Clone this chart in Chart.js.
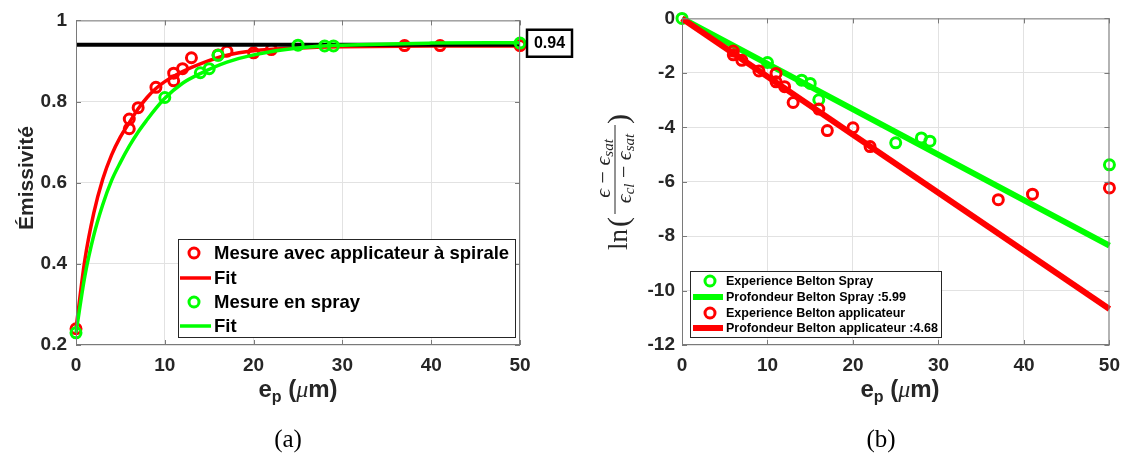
<!DOCTYPE html>
<html lang="fr">
<head>
  <meta charset="UTF-8" />
  <title>Émissivité et profondeur de Belton</title>
  <script src="https://cdn.jsdelivr.net/npm/chart.js"></script>
  <style>
    body { margin: 0; background: #fff; }
    .wrap { position: relative; width: 1129px; height: 455px; overflow: hidden; }
    #leftChart { position: absolute; left: 0; top: 0; }
    #rightChart { position: absolute; left: 590px; top: 0; }
  </style>
</head>
<body>
<div class="wrap">
  <canvas id="leftChart" width="590" height="455"></canvas>
  <canvas id="rightChart" width="539" height="455"></canvas>
</div>

<script>
  // (a) emissivite mesuree
  const spiraleX = [0, 6, 6, 7, 9, 11, 11, 12, 13, 16, 17, 20, 22, 37, 41, 50];
  const spiraleY = [0.24, 0.733, 0.757, 0.785, 0.835, 0.851, 0.870, 0.881, 0.908, 0.915, 0.924, 0.920, 0.928, 0.938, 0.938, 0.938];
  const sprayX = [0, 10, 14, 15, 16, 25, 28, 29, 50];
  const sprayY = [0.23, 0.81, 0.871, 0.881, 0.914, 0.939, 0.937, 0.937, 0.944];
  const fitX = [0, 1, 2, 3, 4, 5, 6, 7, 8, 9, 10, 12, 14, 17, 20, 25, 30, 40, 50];
  const fitSpirale = [0.24, 0.41, 0.525, 0.608, 0.668, 0.713, 0.748, 0.782, 0.810, 0.832, 0.849, 0.874, 0.893, 0.914, 0.925, 0.932, 0.935, 0.937, 0.937];
  const fitSpray = [0.23, 0.37, 0.47, 0.545, 0.605, 0.650, 0.690, 0.725, 0.755, 0.783, 0.808, 0.845, 0.869, 0.897, 0.915, 0.932, 0.939, 0.944, 0.945];
  const satX = [0, 50];
  const satY = [0.94, 0.94];
  const satLabel = '0.94';

  // (b) ln((e - esat)/(ecl - esat))
  const beltonSprayX = [0, 10, 14, 15, 16, 25, 28, 29, 50];
  const beltonSprayY = [0, -1.62, -2.27, -2.39, -2.99, -4.57, -4.39, -4.51, -5.38];
  const beltonApplX = [6, 6, 7, 9, 11, 11, 12, 13, 16, 17, 20, 22, 37, 41, 50];
  const beltonApplY = [-1.20, -1.34, -1.54, -1.93, -2.02, -2.33, -2.51, -3.09, -3.33, -4.12, -4.02, -4.71, -6.66, -6.46, -6.23];
  const droiteX = [0, 50];
  const droiteSpray = [0, -8.35];
  const droiteAppl = [0, -10.68];

  const xTicks = [0, 10, 20, 30, 40, 50];

  const RED = '#ff0000', GREEN = '#00ff00', INK = '#262626', FRAME = '#7a7a7a', GRID = '#e2e2e2';
  const SANS = "'Liberation Sans', Arial, sans-serif";
  const SERIF = "'Liberation Serif', 'DejaVu Serif', serif";

  const pts = (xs, ys) => xs.map((x, i) => ({ x: x, y: ys[i] }));

  function markers(label, xs, ys, color, order) {
    return { label: label, data: pts(xs, ys), showLine: false, pointStyle: 'circle',
      pointRadius: 5, pointBorderWidth: 3, borderColor: color, backgroundColor: 'rgba(0,0,0,0)',
      pointHoverRadius: 5, order: order, clip: false };
  }
  function curve(label, xs, ys, color, width, order) {
    return { label: label, data: pts(xs, ys), showLine: true, pointRadius: 0, borderWidth: width,
      borderColor: color, backgroundColor: color, cubicInterpolationMode: 'monotone', order: order, clip: false };
  }

  // draws a row of text pieces (font changes / sub-scripts) centred on x
  function drawRuns(ctx, runs, x, y, align) {
    let w = 0;
    runs.forEach(r => { ctx.font = r.font; r.w = ctx.measureText(r.t).width; w += r.w; });
    let cx = align === 'left' ? x : x - w / 2;
    ctx.textAlign = 'left';
    runs.forEach(r => { ctx.font = r.font; ctx.fillText(r.t, cx, y + (r.dy || 0)); cx += r.w; });
    return w;
  }

  function axisTitleX(ctx, cx) {
    ctx.fillStyle = INK;
    ctx.textBaseline = 'alphabetic';
    drawRuns(ctx, [
      { t: 'e', font: 'bold 24px ' + SANS },
      { t: 'p', font: 'bold 16px ' + SANS, dy: 5 },
      { t: ' (', font: 'bold 24px ' + SANS },
      { t: 'μ', font: 'italic 24px ' + SERIF },
      { t: 'm)', font: 'bold 24px ' + SANS }
    ], cx, 397);
  }

  function frame(chart) {
    const { ctx, chartArea: a, scales } = chart;
    ctx.save();
    ctx.strokeStyle = FRAME;
    ctx.lineWidth = 1;
    ctx.strokeRect(a.left + 0.5, a.top + 0.5, a.right - a.left - 1, a.bottom - a.top - 1);
    ctx.beginPath();
    scales.x.ticks.forEach(t => {
      const p = Math.round(scales.x.getPixelForValue(t.value)) + 0.5;
      ctx.moveTo(p, a.bottom); ctx.lineTo(p, a.bottom - 5);
      ctx.moveTo(p, a.top); ctx.lineTo(p, a.top + 5);
    });
    scales.y.ticks.forEach(t => {
      const p = Math.round(scales.y.getPixelForValue(t.value)) + 0.5;
      ctx.moveTo(a.left, p); ctx.lineTo(a.left + 5, p);
      ctx.moveTo(a.right, p); ctx.lineTo(a.right - 5, p);
    });
    ctx.stroke();
    ctx.restore();
  }

  function legend(chart, box, rows, font, lineW) {
    const ctx = chart.ctx;
    ctx.save();
    ctx.fillStyle = '#fff';
    ctx.fillRect(box.x, box.y, box.w, box.h);
    ctx.strokeStyle = INK;
    ctx.lineWidth = 1;
    ctx.strokeRect(box.x + 0.5, box.y + 0.5, box.w, box.h);
    ctx.font = font;
    ctx.textBaseline = 'middle';
    ctx.textAlign = 'left';
    rows.forEach((idx, i) => {
      const ds = chart.data.datasets[idx];
      const cy = box.rowY[i];
      ctx.strokeStyle = ds.borderColor;
      if (ds.showLine) {
        ctx.lineWidth = lineW;
        ctx.beginPath();
        ctx.moveTo(box.l0, cy); ctx.lineTo(box.l1, cy);
        ctx.stroke();
      } else {
        ctx.lineWidth = 3;
        ctx.beginPath();
        ctx.arc(box.mx, cy, 5, 0, Math.PI * 2);
        ctx.stroke();
      }
      ctx.fillStyle = '#000';
      ctx.fillText(ds.label, box.tx, cy + 1);
    });
    ctx.restore();
  }

  const leftDecor = {
    id: 'leftDecor',
    afterDatasetsDraw(chart) {
      const ctx = chart.ctx;
      frame(chart);
      ctx.save();
      // 0.94 label box
      const yS = chart.scales.y.getPixelForValue(satY[1]);
      ctx.strokeStyle = '#000';
      ctx.lineWidth = 2.5;
      ctx.fillStyle = '#fff';
      ctx.fillRect(527, yS - 15, 45, 27);
      ctx.strokeRect(527, yS - 15, 45, 27);
      ctx.fillStyle = '#000';
      ctx.font = 'bold 16px ' + SANS;
      ctx.textAlign = 'center';
      ctx.textBaseline = 'middle';
      ctx.fillText(satLabel, 549.5, yS - 1);
      // y title
      ctx.save();
      ctx.translate(33, 178);
      ctx.rotate(-Math.PI / 2);
      ctx.fillStyle = INK;
      ctx.font = 'bold 21px ' + SANS;
      ctx.textAlign = 'center';
      ctx.textBaseline = 'alphabetic';
      ctx.fillText('Émissivité', 0, 0);
      ctx.restore();
      axisTitleX(ctx, 298);
      ctx.fillStyle = '#000';
      ctx.font = '25px ' + SERIF;
      ctx.textAlign = 'center';
      ctx.fillText('(a)', 288, 447);
      ctx.restore();
      legend(chart, { x: 178, y: 239, w: 337, h: 98, rowY: [253, 278, 302, 326], l0: 180, l1: 211, mx: 194, tx: 214 },
        [0, 1, 2, 3], 'bold 18.5px ' + SANS, 3.5);
    }
  };

  const rightDecor = {
    id: 'rightDecor',
    afterDatasetsDraw(chart) {
      const ctx = chart.ctx;
      frame(chart);
      ctx.save();
      axisTitleX(ctx, 310);
      ctx.fillStyle = '#000';
      ctx.font = '25px ' + SERIF;
      ctx.textAlign = 'center';
      ctx.textBaseline = 'alphabetic';
      ctx.fillText('(b)', 291, 447);

      // y title: ln( (eps - eps_sat) / (eps_cl - eps_sat) ), rotated
      ctx.translate(25, 0);
      ctx.rotate(-Math.PI / 2);
      ctx.fillStyle = INK;
      const big = '27px ' + SERIF, mid = 'italic 22px ' + SERIF, sub = 'italic 15px ' + SERIF, up = '22px ' + SERIF;
      ctx.font = big;
      ctx.textAlign = 'left';
      ctx.fillText('ln', -250, 12);
      ctx.font = '30px ' + SERIF;
      ctx.fillText('(', -227, 13);
      ctx.fillText(')', -124, 13);
      const fc = -168.5;
      ctx.strokeStyle = INK;
      ctx.lineWidth = 1;
      ctx.beginPath();
      ctx.moveTo(-214, 0); ctx.lineTo(-125, 0);
      ctx.stroke();
      drawRuns(ctx, [
        { t: 'ϵ', font: mid }, { t: ' − ', font: up }, { t: 'ϵ', font: mid }, { t: 'sat', font: sub, dy: 3 }
      ], fc, -5);
      drawRuns(ctx, [
        { t: 'ϵ', font: mid }, { t: 'cl', font: sub, dy: 3 }, { t: ' − ', font: up }, { t: 'ϵ', font: mid }, { t: 'sat', font: sub, dy: 3 }
      ], fc, 16);
      ctx.restore();
      legend(chart, { x: 100, y: 271, w: 251, h: 66, rowY: [281, 297, 313, 328], l0: 103, l1: 133, mx: 120, tx: 136 },
        [0, 1, 2, 3], 'bold 12.5px ' + SANS, 6);
    }
  };

  function scalesFor(yMin, yMax, yStep, yWidth, yPad, fmt) {
    const tickFont = { family: SANS, size: 19, weight: 'bold' };
    return {
      x: {
        type: 'linear', min: 0, max: 50,
        afterBuildTicks: s => { s.ticks = xTicks.map(v => ({ value: v })); },
        afterFit: s => { s.height = 110; },
        grid: { color: GRID, lineWidth: 1, drawTicks: false },
        border: { display: false },
        ticks: { color: INK, font: tickFont, padding: 9, maxRotation: 0 }
      },
      y: {
        type: 'linear', min: yMin, max: yMax,
        afterFit: s => { s.width = yWidth; },
        grid: { color: GRID, lineWidth: 1, drawTicks: false },
        border: { display: false },
        ticks: { color: INK, font: tickFont, padding: yPad, stepSize: yStep, callback: fmt }
      }
    };
  }

  const common = {
    responsive: false,
    animation: false,
    events: [],
    plugins: { legend: { display: false }, tooltip: { enabled: false } }
  };

  new Chart(document.getElementById('leftChart'), {
    type: 'scatter',
    data: {
      datasets: [
        markers('Mesure avec applicateur à spirale', spiraleX, spiraleY, RED, 5),
        curve('Fit', fitX, fitSpirale, RED, 3.5, 4),
        markers('Mesure en spray', sprayX, sprayY, GREEN, 2),
        curve('Fit', fitX, fitSpray, GREEN, 3.5, 1),
        curve('', satX, satY, '#000', 4, 3)
      ]
    },
    options: Object.assign({}, common, {
      layout: { padding: { left: 0, top: 17, right: 70, bottom: 0 } },
      scales: scalesFor(0.2, 1, 0.2, 76, 9, v => String(Math.round(v * 10) / 10))
    }),
    plugins: [leftDecor]
  });

  new Chart(document.getElementById('rightChart'), {
    type: 'scatter',
    data: {
      datasets: [
        markers('Experience Belton Spray', beltonSprayX, beltonSprayY, GREEN, 4),
        curve('Profondeur Belton Spray :5.99', droiteX, droiteSpray, GREEN, 6, 3),
        markers('Experience Belton applicateur', beltonApplX, beltonApplY, RED, 2),
        curve('Profondeur Belton applicateur :4.68', droiteX, droiteAppl, RED, 6, 1)
      ]
    },
    options: Object.assign({}, common, {
      layout: { padding: { left: 0, top: 17, right: 12, bottom: 0 } },
      scales: scalesFor(-12, 0, 2, 92, 7, v => String(v))
    }),
    plugins: [rightDecor]
  });
</script>
</body>
</html>
